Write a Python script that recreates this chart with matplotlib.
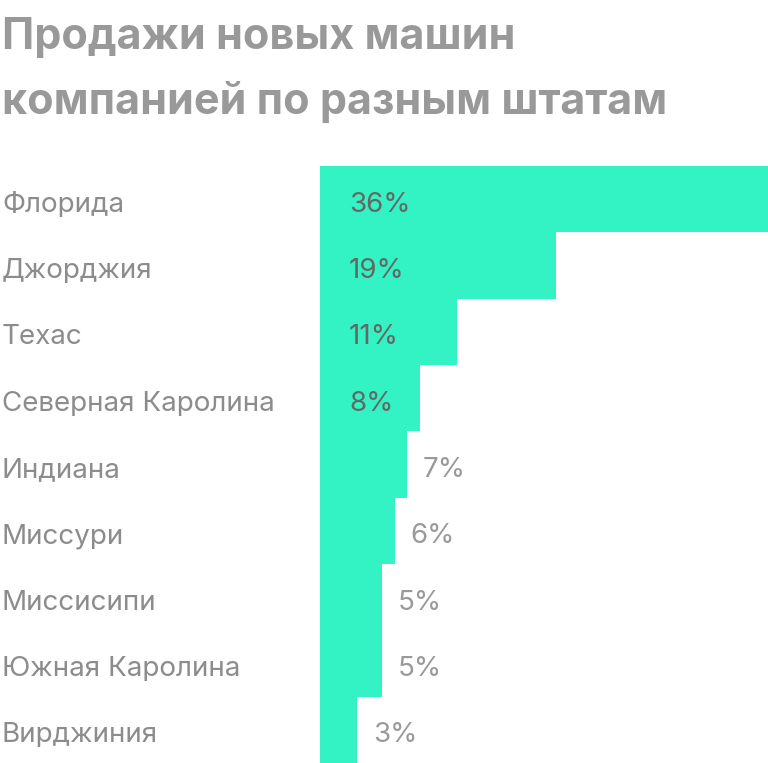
"""Horizontal bar chart: new car sales by state."""

import matplotlib.pyplot as plt
import matplotlib.transforms as transforms
from matplotlib import font_manager

states = ['Флорида', 'Джорджия', 'Техас', 'Северная Каролина', 'Индиана',
          'Миссури', 'Миссисипи', 'Южная Каролина', 'Вирджиния']
shares = [36, 19, 11, 8, 7, 6, 5, 5, 3]
title = 'Продажи новых машин\nкомпанией по разным штатам'

bar_color = '#33f2c4'
title_color = '#999999'
label_color = '#8c8c8c'
inside_color = '#666666'
outside_color = '#999999'


def inter(filename, size, weight='normal'):
  # pick the exact Inter file so a Display/Tight variant is not chosen
  for f in font_manager.fontManager.ttflist:
    if f.fname.endswith('/' + filename):
      return font_manager.FontProperties(fname=f.fname, size=size)
  return font_manager.FontProperties(family=['Inter', 'DejaVu Sans'],
                                     size=size, weight=weight)


label_font = inter('Inter-Regular.otf', 20)
title_font = inter('Inter-Bold.otf', 31, 'bold')

W, H = 768, 763
fig = plt.figure(figsize=(W / 100, H / 100), dpi=100)
ax = fig.add_axes([320 / W, 0, 1 - 320 / W, (H - 166) / H])

n = len(states)
ypos = list(range(n))
ax.barh(ypos, shares, height=1.0, color=bar_color, edgecolor='none')
ax.set_xlim(0, 36)
ax.set_ylim(n - 0.5, -0.5)
ax.axis('off')

px = 36 / (W - 320)  # data units per pixel
row = (H - 166) / n  # pixels per bar
dy = 12.5 / row  # baseline offset below the bar centre
trans = transforms.blended_transform_factory(fig.transFigure, ax.transData)
for y, name, v in zip(ypos, states, shares):
  ax.text(2 / W, y + dy, name, transform=trans, ha='left', va='baseline',
          fontproperties=label_font, color=label_color)
  if v >= 8:
    ax.text(29 * px, y + dy, f'{v}%', ha='left', va='baseline',
            fontproperties=label_font, color=inside_color)
  else:
    ax.text(v + 16 * px, y + dy, f'{v}%', ha='left', va='baseline',
            fontproperties=label_font, color=outside_color)

fig.text(2 / W, 1 - 17 / H, title, ha='left', va='top',
         fontproperties=title_font, color=title_color, linespacing=1.7)

fig.savefig('out.png', dpi=100)
